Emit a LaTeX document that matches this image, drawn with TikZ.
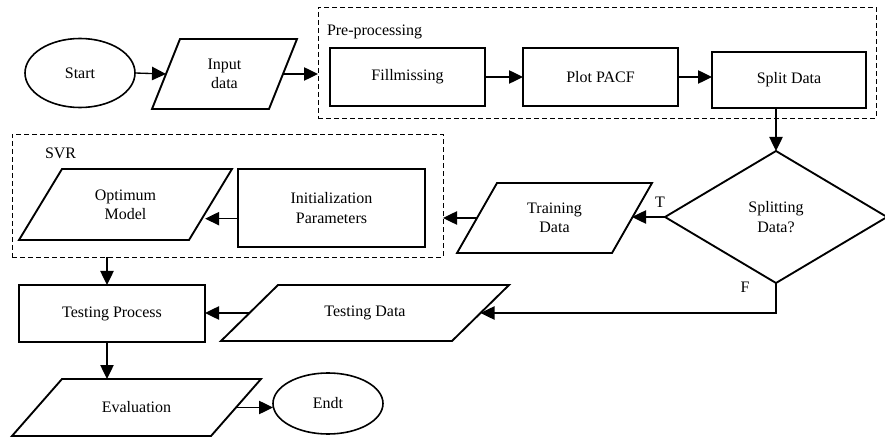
\documentclass[tikz,border=0pt]{standalone}
\usepackage{fontspec}
\setmainfont{Liberation Serif}
\usetikzlibrary{shapes.geometric,arrows.meta}
% draw a parallelogram round a rectangular node: #1 name, #2 slant in px
\newcommand\pgram[2]{%
  \draw[line width=1.4pt, line join=miter]
    ([xshift=-#2*0.375pt]#1.south west) -- ([xshift=#2*0.375pt]#1.north west)
    -- ([xshift=#2*0.375pt]#1.north east) -- ([xshift=-#2*0.375pt]#1.south east) -- cycle;}
\begin{document}
\begin{tikzpicture}[x=0.75pt,y=-0.75pt,
 every node/.style={font=\fontsize{12}{14.5}\selectfont, align=center, inner sep=0pt, outer sep=0pt},
 sz/.style 2 args={minimum width=#1*0.75pt, minimum height=#2*0.75pt},
 proc/.style={draw, line width=1.4pt, rectangle},
 io/.style={rectangle},
 term/.style={draw, line width=1.2pt, ellipse},
 dec/.style={draw, line width=1.4pt, diamond},
 grp/.style={draw, line width=0.7pt, dash pattern=on 3.5pt off 2.5pt},
 arr/.style={line width=1pt, -{Triangle[length=10.5pt,width=10pt]}},
]
\useasboundingbox (0,0) rectangle (885,438);

% groups
\node[grp, sz={558}{111}] (pre) at (597,62.5) {};
\node[anchor=west] (prelbl) at (327,32) {Pre-processing};
\node[grp, sz={431}{123}] (svr) at (227.5,195.5) {};
\node[anchor=west] (svrlbl) at (45,153) {SVR};

% nodes
\node[term, sz={110}{69}] (start) at (80,73) {Start};
\node[io, sz={117}{70}] (inp) at (224.5,74) {Input\\data};
\pgram{inp}{28}
\node[proc, sz={155}{58}] (fill) at (407.5,77) {Fillmissing};
\node[proc, sz={155}{58}] (pacf) at (600.5,77) {Plot PACF};
\node[proc, sz={154}{56}] (split) at (789,80) {Split Data};
\node[dec, sz={222}{132}] (dia) at (776,217) {Splitting\\Data?};
\node[io, sz={155}{70}] (train) at (554.5,218) {Training\\Data};
\pgram{train}{40}
\node[io, sz={170}{71}] (opt) at (125.5,204.5) {Optimum\\Model};
\pgram{opt}{43}
\node[proc, sz={187}{78}] (init) at (331.5,208) {Initialization\\Parameters};
\node[proc, sz={186}{57}] (test) at (112,313.5) {Testing Process};
\node[io, sz={231}{56}] (tdata) at (365,313) {Testing Data};
\pgram{tdata}{57}
\node[io, sz={199}{57}] (eval) at (136.5,407.5) {Evaluation};
\pgram{eval}{50}
\node[term, sz={110}{61}] (endt) at (328,403.5) {Endt};
\node (tl) at (660,202) {T};
\node (fl) at (745,287) {F};

% connectors
\draw[arr] (start.east) -- (inp.west);
\draw[arr] (inp.east) -- (inp.east -| pre.west);
\draw[arr] (fill.east) -- (pacf.west);
\draw[arr] (pacf.east) -- (pacf.east -| split.west);
\draw[arr] (split.south -| dia.north) -- (dia.north);
\draw[arr] (dia.west) -- (dia.west -| train.east);
\draw[arr] (train.west) -- (train.west -| svr.east);
\draw[arr] ([yshift=-8pt]init.west) -- ([xshift=-4pt,yshift=-8pt]init.west -| opt.east);
\draw[arr] ([xshift=-3.75pt]svr.south -| test.north) -- ([xshift=-3.75pt]test.north);
\draw[arr] (tdata.west) -- (tdata.west -| test.east);
\draw[arr] (dia.south) |- (tdata.east);
\draw[arr] ([xshift=-3.75pt]test.south) -- ([xshift=-3.75pt]test.south |- eval.north);
\draw[arr] (eval.east) -- (eval.east -| endt.west);
\end{tikzpicture}
\end{document}
